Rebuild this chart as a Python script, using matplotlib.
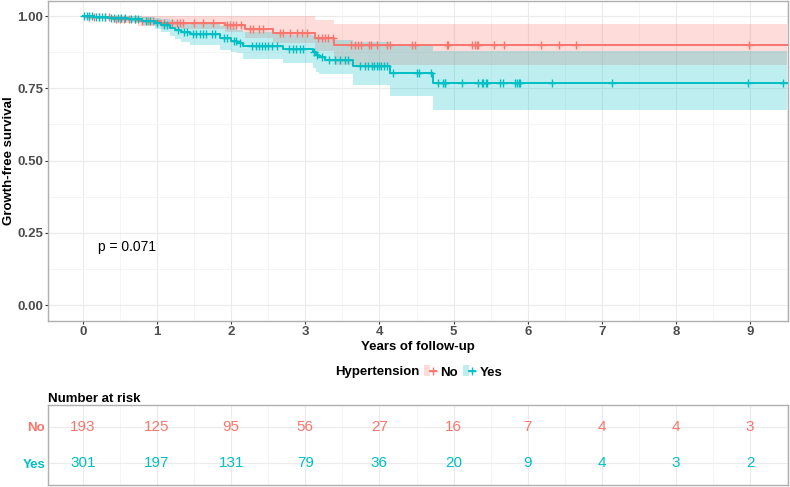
import numpy as np
import matplotlib
matplotlib.use("Agg")
import matplotlib.pyplot as plt
from matplotlib.patches import Patch
from matplotlib.lines import Line2D
from matplotlib.legend_handler import HandlerTuple

plt.rcParams['font.family'] = ['Liberation Sans', 'DejaVu Sans']

# 颜色
c_no = '#F8766D'
c_yes = '#00BFC4'

# ---- 数据 ----
no_time = [0, 0.05, 0.4, 0.75, 1.05, 1.92, 2.19, 2.57, 3.13, 3.39]
no_surv = [1.0, 0.995, 0.989, 0.983, 0.977, 0.969, 0.954, 0.940, 0.923, 0.900]
no_lower = [1.0, 0.99, 0.975, 0.965, 0.955, 0.945, 0.925, 0.905, 0.88, 0.83]
no_upper = [1.0, 1.0, 1.0, 1.0, 1.0, 1.0, 1.0, 1.0, 0.986, 0.972]

yes_time = [0, 0.15, 0.34, 0.61, 0.8, 0.97, 1.05, 1.17, 1.24, 1.33, 1.44, 1.85,
            2.0, 2.08, 2.16, 2.70, 3.10, 3.14, 3.19, 3.27, 3.64, 4.14, 4.72]
yes_surv = [1.0, 0.997, 0.994, 0.99, 0.984, 0.975, 0.969, 0.958, 0.952, 0.944, 0.938, 0.923,
            0.915, 0.905, 0.896, 0.886, 0.877, 0.865, 0.857, 0.848, 0.828, 0.804, 0.769]
yes_lower = [1.0, 0.995, 0.99, 0.98, 0.97, 0.955, 0.945, 0.93, 0.92, 0.91, 0.90, 0.882,
             0.876, 0.872, 0.85, 0.836, 0.819, 0.805, 0.80, 0.80, 0.761, 0.724, 0.675]
yes_upper = [1.0, 1.0, 1.0, 1.0, 0.998, 0.994, 0.99, 0.985, 0.982, 0.976, 0.972, 0.965,
             0.958, 0.952, 0.946, 0.934, 0.93, 0.925, 0.92, 0.917, 0.911, 0.902, 0.879]

no_censor = [0.08, 0.15, 0.22, 0.3, 0.35, 0.45, 0.5, 0.55, 0.62, 0.7, 0.8, 0.88, 0.95,
             1.1, 1.2, 1.27, 1.31, 1.35, 1.5, 1.62, 1.75, 1.95, 1.98, 2.02, 2.07, 2.13,
             2.25, 2.3, 2.37, 2.43, 2.66, 2.7, 2.79, 2.89, 2.95, 3.02, 3.17, 3.22, 3.27,
             3.31, 3.37, 3.62, 3.67, 3.71, 3.75, 3.86, 3.89, 3.97, 4.1, 4.14, 4.44, 4.48,
             4.91, 4.93, 5.25, 5.29, 5.31, 5.33, 5.55, 5.68, 6.18, 6.42, 6.65, 8.99]
yes_censor = [0.02, 0.05, 0.08, 0.12, 0.18, 0.22, 0.26, 0.3, 0.38, 0.42, 0.47, 0.52, 0.57,
              0.65, 0.7, 0.75, 0.85, 0.9, 1.0, 1.1, 1.13, 1.28, 1.36, 1.4, 1.48, 1.52,
              1.58, 1.62, 1.66, 1.74, 1.78, 1.9, 1.94, 2.04, 2.06, 2.12, 2.28, 2.33, 2.38,
              2.41, 2.45, 2.5, 2.55, 2.62, 2.78, 2.83, 2.88, 2.93, 2.97, 3.12, 3.16, 3.22,
              3.32, 3.4, 3.47, 3.53, 3.57, 3.74, 3.8, 3.85, 3.9, 3.93, 3.97, 4.0, 4.02,
              4.06, 4.1, 4.18, 4.51, 4.53, 4.7, 4.79, 4.86, 4.88, 4.89, 5.11, 5.33, 5.38,
              5.4, 5.44, 5.45, 5.62, 5.66, 5.83, 5.85, 5.88, 5.9, 6.33, 7.14, 8.97, 9.44]

end_time = 9.5
risk_times = [0, 1, 2, 3, 4, 5, 6, 7, 8, 9]
risk_no = [193, 125, 95, 56, 27, 16, 7, 4, 4, 3]
risk_yes = [301, 197, 131, 79, 36, 20, 9, 4, 3, 2]
p_text = 'p = 0.071'

# ---- 画图 ----
fig = plt.figure(figsize=(7.9, 4.87), dpi=100)
ax = fig.add_axes([48/790, 1-321/487, 740/790, 320/487])
ax_t = fig.add_axes([48/790, 1-485/487, 740/790, 80/487])

xlim = (-0.47, 9.51)


def style_axes(a):
    for s in a.spines.values():
        s.set_color('#AFAFAF')
        s.set_linewidth(1.0)
    a.set_axisbelow(True)
    a.grid(True, which='major', color='#EBEBEB', lw=0.8)
    a.grid(True, which='minor', color='#F4F4F4', lw=0.6)


def draw_group(t, s, lo, up, cens, color):
    tt = np.append(t, end_time)
    ss = np.append(s, s[-1])
    ll = np.append(lo, lo[-1])
    uu = np.append(up, up[-1])
    ax.fill_between(tt, ll, uu, step='post', color=color, alpha=0.25, lw=0)
    ax.plot(tt, ss, drawstyle='steps-post', color=color, lw=1.4)
    idx = np.searchsorted(t, cens, side='right') - 1
    ax.plot(cens, np.array(s)[idx], ls='none', marker='+', ms=6, mew=1.0, color=color)


draw_group(no_time, no_surv, no_lower, no_upper, no_censor, c_no)
draw_group(yes_time, yes_surv, yes_lower, yes_upper, yes_censor, c_yes)

ax.set_xlim(*xlim)
ax.set_ylim(-0.055, 1.052)
ax.set_xticks(range(0, 10))
ax.set_xticks(np.arange(0.5, 9.6, 1.0), minor=True)
ax.set_yticks([0, 0.25, 0.5, 0.75, 1.0])
ax.set_yticks([0.125, 0.375, 0.625, 0.875], minor=True)
ax.set_yticklabels(['0.00', '0.25', '0.50', '0.75', '1.00'])
ax.tick_params(which='major', length=2.5, color='#333333', labelsize=9.5, labelcolor='#4D4D4D', pad=1)
ax.tick_params(which='minor', length=0)
for lab in ax.get_xticklabels() + ax.get_yticklabels():
    lab.set_fontweight('bold')
style_axes(ax)
ax.set_xlabel('Years of follow-up', fontsize=9.5, fontweight='bold', labelpad=2)
ax.set_ylabel('Growth-free survival', fontsize=9.5, fontweight='bold')
ax.yaxis.set_label_coords(-33/740, 0.5)
ax.text(0.2, 0.2, p_text, fontsize=10, va='center', ha='left')

# 图例
fig.text(419/790, 1-372/487, 'Hypertension', fontsize=9.5, fontweight='bold', va='center', ha='right')
h_no = (Patch(facecolor=c_no, alpha=0.25, lw=0), Line2D([], [], color=c_no, marker='+', ms=6, lw=1.3))
h_yes = (Patch(facecolor=c_yes, alpha=0.25, lw=0), Line2D([], [], color=c_yes, marker='+', ms=6, lw=1.3))
fig.legend([h_no, h_yes], ['No', 'Yes'], loc='center left', bbox_to_anchor=(424/790, 1-372/487),
           ncol=2, frameon=False, handler_map={tuple: HandlerTuple(ndivide=None, pad=0)},
           handlelength=0.9, handleheight=0.9, handletextpad=0.35, columnspacing=0.4,
           borderpad=0, borderaxespad=0, prop={'weight': 'bold', 'size': 9.5})

# 风险表
for i, t in enumerate(risk_times):
    ax_t.text(t, 2, str(risk_no[i]), color=c_no, fontsize=11, ha='center', va='center')
    ax_t.text(t, 1, str(risk_yes[i]), color=c_yes, fontsize=11, ha='center', va='center')
ax_t.set_xlim(*xlim)
ax_t.set_ylim(0.4, 2.6)
ax_t.set_xticks(range(0, 10))
ax_t.set_xticks(np.arange(0.5, 9.6, 1.0), minor=True)
ax_t.set_xticklabels([])
ax_t.set_yticks([1, 2])
ax_t.set_yticklabels(['Yes', 'No'])
ax_t.tick_params(which='both', length=0, labelsize=9.5, pad=2)
for lab, c in zip(ax_t.get_yticklabels(), [c_yes, c_no]):
    lab.set_color(c)
    lab.set_fontweight('bold')
style_axes(ax_t)
ax_t.grid(True, which='minor', axis='y', color='none')
ax_t.set_title('Number at risk', fontsize=9.5, fontweight='bold', loc='left', pad=2, x=0.0)

fig.savefig('out.png', dpi=100)
